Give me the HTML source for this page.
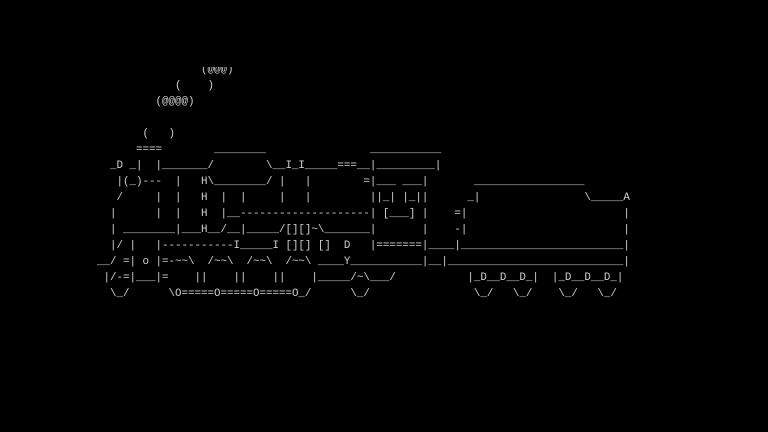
<!DOCTYPE html>
<html><head><meta charset="utf-8"><style>
html,body{margin:0;padding:0;background:#000;width:768px;height:432px;overflow:hidden;}
pre{position:absolute;left:97px;top:62px;margin:0;font-family:"Liberation Mono",monospace;font-size:10.83px;line-height:16px;color:#d0d0d0;}
#cover{position:absolute;left:0;top:0;width:768px;height:67px;background:#000;}
</style></head><body>
<pre>                (@@@)
            (    )
         (@@@@)

       (   )
      ====        ________                ___________
  _D _|  |_______/        \__I_I_____===__|_________|
   |(_)---  |   H\________/ |   |        =|___ ___|       _________________
   /     |  |   H  |  |     |   |         ||_| |_||      _|                \_____A
  |      |  |   H  |__--------------------| [___] |    =|                        |
  | ________|___H__/__|_____/[][]~\_______|       |    -|                        |
  |/ |   |-----------I_____I [][] []  D   |=======|____|_________________________|
__/ =| o |=-~~\  /~~\  /~~\  /~~\ ____Y___________|__|___________________________|
 |/-=|___|=    ||    ||    ||    |_____/~\___/           |_D__D__D_|  |_D__D__D_|
  \_/      \O=====O=====O=====O_/      \_/                \_/   \_/    \_/   \_/</pre>
<div id="cover"></div>
</body></html>
